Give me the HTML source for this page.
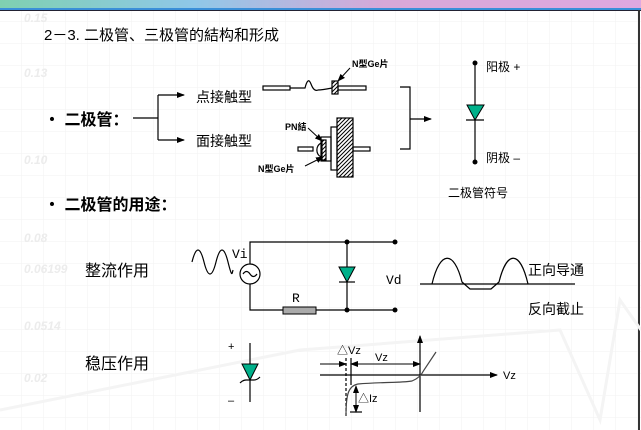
<!DOCTYPE html>
<html><head><meta charset="utf-8"><style>
body{margin:0;width:641px;height:430px;overflow:hidden;background:#fff;}
svg{display:block;font-family:"Liberation Sans","Noto Sans CJK SC",sans-serif;}
</style></head><body>
<svg width="641" height="430" viewBox="0 0 641 430" xmlns="http://www.w3.org/2000/svg">
<defs>
<linearGradient id="tb" x1="0" x2="1"><stop offset="0" stop-color="#7fd0b0"/><stop offset="0.3" stop-color="#8fc8e8"/><stop offset="0.6" stop-color="#d8a8d8"/><stop offset="1" stop-color="#e0a8e0"/></linearGradient>
<pattern id="grid" width="22" height="22" patternUnits="userSpaceOnUse"><path d="M22 0V22H0" fill="none" stroke="#f2f2f2" stroke-width="1"/></pattern>
<pattern id="hat" width="4" height="4" patternUnits="userSpaceOnUse"><rect width="4" height="4" fill="#fff"/><path d="M0 4L4 0M-1 1L1 -1M3 5L5 3" stroke="#000" stroke-width="1"/></pattern>
<marker id="ar" markerWidth="8" markerHeight="8" refX="7" refY="4" orient="auto" markerUnits="userSpaceOnUse"><path d="M0 1L8 4L0 7Z" fill="#000"/></marker>
<marker id="al" markerWidth="8" markerHeight="8" refX="1" refY="4" orient="auto" markerUnits="userSpaceOnUse"><path d="M8 1L0 4L8 7Z" fill="#000"/></marker>
</defs>
<rect width="641" height="430" fill="url(#grid)"/>
<rect x="0" y="0" width="641" height="8" fill="url(#tb)"/>
<rect x="0" y="8" width="641" height="2" fill="#3a8fd8"/>
<rect x="0" y="10" width="641" height="1" fill="#223"/>
<rect x="638" y="10" width="2" height="420" fill="#333"/>
<g fill="#ececec" font-size="12" font-style="italic" font-weight="bold">
<text x="24" y="22">0.15</text><text x="24" y="77">0.13</text><text x="24" y="164">0.10</text><text x="24" y="242">0.08</text><text x="24" y="273">0.06199</text><text x="24" y="330">0.0514</text><text x="24" y="382">0.02</text>
</g>
<polyline points="0,410 300,350 560,330 600,420 620,300 641,330" fill="none" stroke="#f4f4f4" stroke-width="3"/>

<g font-size="15" fill="#000">
<text x="44" y="40">2－3. 二极管、三极管的結构和形成</text>
<text x="44" y="125" font-size="16" font-weight="bold">・ 二极管：</text>
<text x="44" y="210" font-size="16" font-weight="bold">・ 二极管的用途：</text>
<text x="196" y="102" font-size="14">点接触型</text>
<text x="196" y="146" font-size="14">面接触型</text>
<text x="85" y="276" font-size="16">整流作用</text>
<text x="85" y="369" font-size="16">稳压作用</text>
<text x="486" y="71" font-size="12">阳极 +</text>
<text x="486" y="162" font-size="12">阴极 –</text>
<text x="448" y="197" font-size="12">二极管符号</text>
<text x="528" y="275" font-size="14">正向导通</text>
<text x="528" y="314" font-size="14">反向截止</text>
</g>
<g fill="none" stroke="#000" stroke-width="1.2">
<path d="M133 118H158M158 95V140"/>
<line x1="158" y1="95" x2="184" y2="95" marker-end="url(#ar)"/>
<line x1="158" y1="140" x2="184" y2="140" marker-end="url(#ar)"/>
<rect x="263" y="86" width="27" height="4"/>
<path d="M290 88H305Q308 76 311 84T318 90Q322 90 332 88"/>
<rect x="332" y="81" width="6" height="13" fill="url(#hat)"/>
<rect x="338" y="86" width="28" height="4"/>
<line x1="350" y1="68" x2="338" y2="81" marker-end="url(#ar)" stroke-width="1"/>
<rect x="337" y="118" width="16" height="59" fill="url(#hat)"/>
<rect x="331" y="127" width="6" height="43"/>
<rect x="321" y="137" width="10" height="24"/>
<rect x="322" y="140" width="4" height="20" fill="url(#hat)"/>
<path d="M321 143A8 8 0 0 0 321 157"/>
<rect x="298" y="147" width="15" height="4"/>
<rect x="353" y="147" width="17" height="4"/>
<line x1="308" y1="128" x2="322" y2="141" marker-end="url(#ar)" stroke-width="1"/>
<line x1="305" y1="166" x2="323" y2="157" marker-end="url(#ar)" stroke-width="1"/>
<path d="M400 87H410V149H400"/>
<line x1="410" y1="119" x2="431" y2="119" marker-end="url(#ar)"/>
<line x1="475" y1="63" x2="475" y2="162"/>
<line x1="466" y1="120" x2="484" y2="120"/>
</g>
<g font-size="9" font-weight="bold" fill="#000"><text x="352" y="67">N型Ge片</text><text x="285" y="130">PN結</text><text x="258" y="172">N型Ge片</text></g>
<polygon points="467,105 484,105 475,120" fill="#00b08a" stroke="#000"/>
<circle cx="475" cy="63" r="2.5"/><circle cx="475" cy="162" r="2.5"/>

<g fill="none" stroke="#000" stroke-width="1.2">
<path d="M192 262 C196 246,200 246,204 262 S212 278,216 262 S224 246,228 262 S232 274,233 270"/>
<path d="M250 264V242H395M250 284V310H283M316 310H395M347 242V310"/>
<circle cx="250" cy="274" r="10"/>
<path d="M243 274q3.5-5 7 0t7 0"/>
<line x1="339" y1="282" x2="355" y2="282"/>
<path d="M420 284H575"/>
<path d="M432 284C440 250,454 250,462 282L470 289H491L499 282C507 250,520 250,528 284"/>
</g>
<rect x="283" y="307" width="33" height="7" fill="#aaa" stroke="#000"/>
<polygon points="339,267 355,267 347,282" fill="#00b08a" stroke="#000"/>
<g fill="#000"><circle cx="347" cy="242" r="2.5"/><circle cx="347" cy="310" r="2.5"/><circle cx="395" cy="242" r="2.5"/><circle cx="395" cy="310" r="2.5"/></g>
<g font-family="Liberation Mono,monospace" font-size="13" fill="#000">
<text x="232" y="258">Vi</text><text x="386" y="284">Vd</text><text x="292" y="302">R</text>
</g>

<g fill="none" stroke="#000" stroke-width="1.2">
<line x1="250" y1="343" x2="250" y2="402"/>
<path d="M240 383Q243 380,246 380H254Q257 380,260 377"/>
<line x1="420" y1="412" x2="420" y2="336" marker-end="url(#ar)"/>
<line x1="320" y1="375" x2="497" y2="375" marker-end="url(#ar)"/>
<line x1="346" y1="358" x2="346" y2="418" stroke-dasharray="3,2"/>
<line x1="351" y1="358" x2="351" y2="385"/>
<line x1="320" y1="364" x2="346" y2="364" marker-end="url(#ar)" stroke-width="1"/>
<line x1="351" y1="364" x2="420" y2="364" marker-start="url(#al)" marker-end="url(#ar)" stroke-width="1"/>
<path d="M346 416C346 395,348 386,358 384C380 382,400 383,412 381Q420 378,424 370L436 352" stroke="#444"/>
<line x1="356" y1="386" x2="356" y2="412" marker-start="url(#al)" marker-end="url(#ar)" stroke-width="1"/>
<path d="M350 412H362"/>
</g>
<polygon points="242,364 258,364 250,380" fill="#00b08a" stroke="#000"/>
<g font-size="11" fill="#000"><text x="228" y="350">+</text><text x="228" y="404">–</text>
<text x="337" y="354">△Vz</text><text x="375" y="361">Vz</text><text x="503" y="379">Vz</text><text x="358" y="402">△Iz</text></g>
</svg>
</body></html>
